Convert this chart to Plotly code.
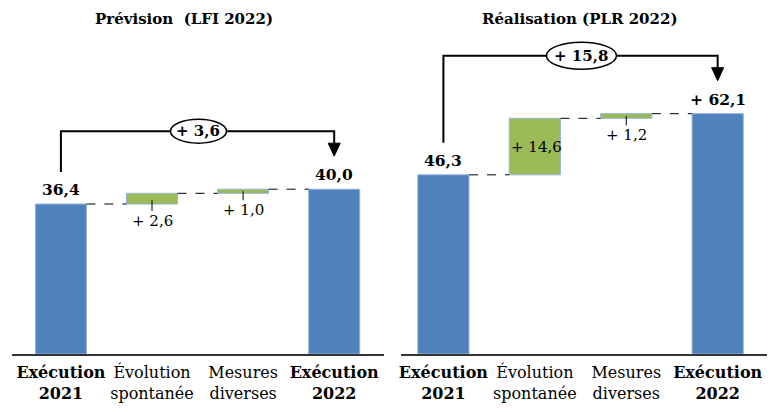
import plotly.graph_objects as go

# Données (Md€)
categories = ['<b>Exécution<br>2021</b>', 'Évolution<br>spontanée',
              'Mesures<br>diverses', '<b>Exécution<br>2022</b>']
titles = ['Prévision  (LFI 2022)', 'Réalisation (PLR 2022)']

prev_start = 36.4
prev_steps = [2.6, 1.0]
prev_end = 40.0
prev_total_labels = ['36,4', '40,0']
prev_step_labels = ['+ 2,6', '+ 1,0']
prev_delta_label = '+ 3,6'

real_start = 46.3
real_steps = [14.6, 1.2]
real_end = 62.1
real_total_labels = ['46,3', '+ 62,1']
real_step_labels = ['+ 14,6', '+ 1,2']
real_delta_label = '+ 15,8'

BLUE = '#4F81BD'
GREEN = '#9BBB59'
EDGE = '#95B3D7'
FONT = 'DejaVu Serif'
OFF = 8                      # marge par défaut du <body> de la page
W, H = 777 - OFF, 417 - OFF
BASE_Y = 354 - OFF           # ligne de base des barres
BAR_W = 0.56

panels = [
    dict(start=prev_start, steps=prev_steps, end=prev_end,
         totals=prev_total_labels, step_labels=prev_step_labels,
         delta=prev_delta_label, title=titles[0], title_x=182,
         xdom=[10, 383], xrange=[-0.537, 3.547], ppu=4.12,
         ell=(28, 12), inside=[False, False]),
    dict(start=real_start, steps=real_steps, end=real_end,
         totals=real_total_labels, step_labels=real_step_labels,
         delta=real_delta_label, title=titles[1], title_x=579,
         xdom=[400, 767], xrange=[-0.464, 3.54], ppu=3.87,
         ell=(35, 13.5), inside=[True, False]),
]


def fnt(size):
    return dict(family=FONT, size=size, color='black')


fig = go.Figure()
shapes = []
annotations = []

for k, p in enumerate(panels):
    xa = 'x' if k == 0 else 'x2'
    ya = 'y' if k == 0 else 'y2'
    ppu = p['ppu']
    ppx = (p['xdom'][1] - p['xdom'][0]) / (p['xrange'][1] - p['xrange'][0])

    def py(n):
        return n / ppu

    s1, s2 = p['steps']
    bases = [0, p['start'], p['start'] + s1, 0]
    heights = [p['start'], s1, s2, p['end']]
    levels = [p['start'], p['start'] + s1, p['end']]

    fig.add_trace(go.Bar(
        x=[0, 1, 2, 3], y=heights, base=bases, width=BAR_W,
        marker=dict(color=[BLUE, GREEN, GREEN, BLUE],
                    line=dict(color=EDGE, width=1)),
        xaxis=xa, yaxis=ya, showlegend=False, hoverinfo='skip'))

    # pointillés de liaison
    for i, lv in enumerate(levels):
        shapes.append(dict(type='line', xref=xa, yref=ya,
                           x0=i + BAR_W / 2, x1=i + 1 - BAR_W / 2,
                           y0=lv, y1=lv,
                           line=dict(color='black', width=1, dash='dash')))

    # étiquettes des totaux
    for i, txt in zip([0, 3], p['totals']):
        annotations.append(dict(xref=xa, yref=ya, x=i, y=heights[i],
                                text='<b>%s</b>' % txt, showarrow=False,
                                xanchor='center', yanchor='bottom', yshift=3,
                                font=fnt(15.5)))

    # étiquettes des variations
    for j, txt in enumerate(p['step_labels']):
        i = j + 1
        if p['inside'][j]:
            annotations.append(dict(xref=xa, yref=ya, x=i - BAR_W / 2,
                                    y=bases[i] + heights[i] / 2, text=txt,
                                    showarrow=False, xanchor='left',
                                    yanchor='middle', font=fnt(15)))
        else:
            shapes.append(dict(type='line', xref=xa, yref=ya, x0=i, x1=i,
                               y0=bases[i] + min(heights[i] / 2, py(4)),
                               y1=bases[i] - py(7),
                               line=dict(color='black', width=1)))
            annotations.append(dict(xref=xa, yref=ya, x=i, y=bases[i],
                                    text=txt, showarrow=False,
                                    xanchor='center', yanchor='top', yshift=-6,
                                    font=fnt(15)))

    # accolade avec flèche
    top = p['end'] + py(58)
    y_from = p['start'] + py(32)
    y_base = p['end'] + py(46)
    y_tip = p['end'] + py(33)
    shapes.append(dict(type='path', xref=xa, yref=ya,
                       path='M 0,%f L 0,%f L 3,%f L 3,%f' % (y_from, top, top, y_base),
                       line=dict(color='black', width=2)))
    hw = 6 / ppx
    shapes.append(dict(type='path', xref=xa, yref=ya,
                       path='M %f,%f L %f,%f L 3,%f Z' % (3 - hw, y_base, 3 + hw, y_base, y_tip),
                       fillcolor='black', line=dict(color='black', width=1)))
    ex, ey = p['ell']
    shapes.append(dict(type='circle', xref=xa, yref=ya,
                       xsizemode='pixel', ysizemode='pixel',
                       xanchor=1.51, yanchor=top,
                       x0=-ex, x1=ex, y0=-ey, y1=ey,
                       fillcolor='white', line=dict(color='black', width=1.5)))
    annotations.append(dict(xref=xa, yref=ya, x=1.51, y=top,
                            text='<b>%s</b>' % p['delta'], showarrow=False,
                            xanchor='center', yanchor='middle',
                            font=fnt(15)))

    # titre du panneau
    annotations.append(dict(xref='paper', yref='paper',
                            x=(p['title_x'] - OFF) / W,
                            y=(BASE_Y - (19 - OFF)) / BASE_Y,
                            text='<b>%s</b>' % p['title'], showarrow=False,
                            xanchor='center', yanchor='middle',
                            font=fnt(15)))

axis_common = dict(tickvals=[0, 1, 2, 3], ticktext=categories,
                   showline=True, linecolor='#333333', linewidth=1.5,
                   showgrid=False, zeroline=False, ticks='',
                   ticklabelstandoff=3,
                   tickfont=fnt(16), fixedrange=True)


def dom(p):
    return [(p['xdom'][0] - OFF) / W, (p['xdom'][1] - OFF) / W]


fig.update_layout(
    width=W, height=H,
    margin=dict(l=0, r=0, t=0, b=H - BASE_Y),
    paper_bgcolor='white', plot_bgcolor='white',
    font=dict(family=FONT, color='black'),
    xaxis=dict(domain=dom(panels[0]), range=panels[0]['xrange'], **axis_common),
    xaxis2=dict(domain=dom(panels[1]), range=panels[1]['xrange'], **axis_common),
    yaxis=dict(range=[0, BASE_Y / panels[0]['ppu']], visible=False),
    yaxis2=dict(range=[0, BASE_Y / panels[1]['ppu']], visible=False, anchor='x2'),
    shapes=shapes, annotations=annotations,
)

fig.write_html('out.html')
